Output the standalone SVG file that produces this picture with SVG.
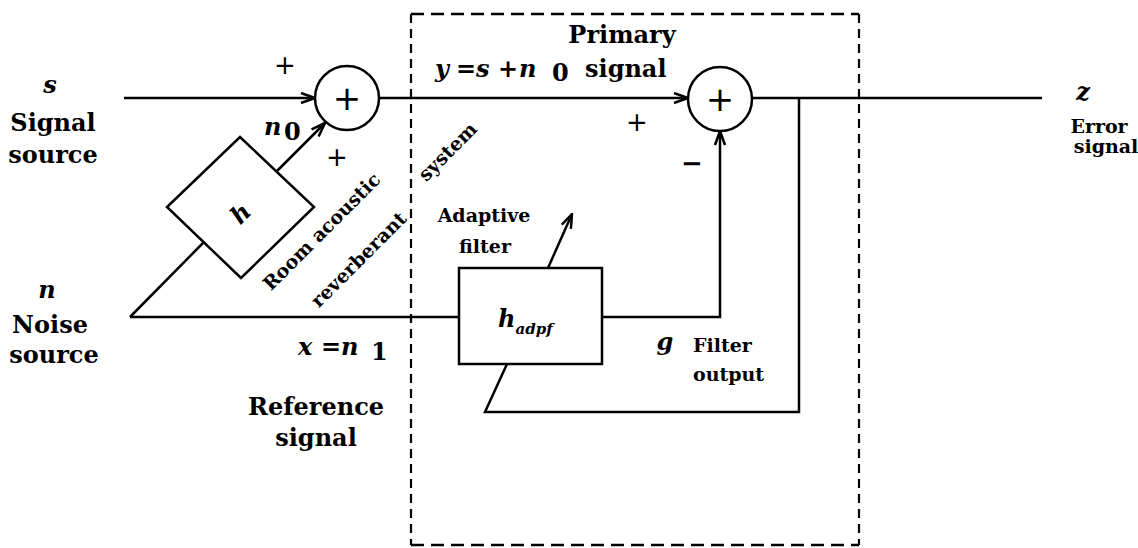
<svg xmlns="http://www.w3.org/2000/svg" width="1138" height="548" viewBox="0 0 1138 548">
<style>
.ln{fill:none;stroke:#000;stroke-width:2.5}
.dh{fill:none;stroke:#000;stroke-width:2.5;stroke-dasharray:13 7}
.dv{fill:none;stroke:#000;stroke-width:2.2;stroke-dasharray:9 6}
.lb{font-family:"DejaVu Serif","Liberation Serif",serif;font-weight:bold;font-size:24px;fill:#000}
.c{text-anchor:middle}
.sm{font-size:19px}
.it{font-style:italic}
.op{font-family:"DejaVu Sans",sans-serif;font-size:26px;fill:#000;text-anchor:middle}
.big{font-family:"DejaVu Sans",sans-serif;font-size:34px;fill:#000;text-anchor:middle}
</style>
<defs>
<marker id="ah" viewBox="0 0 16 12" refX="15" refY="6" markerWidth="16" markerHeight="12" markerUnits="userSpaceOnUse" orient="auto">
<path d="M1,1 L15,6 L1,11" fill="none" stroke="#000" stroke-width="2.5"/>
</marker>
</defs>
<rect x="0" y="0" width="1138" height="548" fill="#fff"/>

<g id="system-box">
<line class="dh" x1="411" y1="14" x2="859" y2="14"/>
<line class="dh" x1="411" y1="545" x2="859" y2="545"/>
<line class="dv" x1="411" y1="14" x2="411" y2="545"/>
<line class="dv" x1="859" y1="14" x2="859" y2="545"/>
</g>

<g id="connectors">
<line class="ln" x1="124" y1="98" x2="315" y2="98" marker-end="url(#ah)"/>
<line class="ln" x1="277" y1="171" x2="325" y2="123" marker-end="url(#ah)"/>
<line class="ln" x1="379" y1="98" x2="688" y2="98" marker-end="url(#ah)"/>
<line class="ln" x1="752" y1="98" x2="1042" y2="98"/>
<polyline class="ln" points="799,98 799,412 485,412 507,364"/>
<line class="ln" x1="548" y1="268" x2="572" y2="214" marker-end="url(#ah)"/>
<line class="ln" x1="130" y1="317" x2="459" y2="317"/>
<line class="ln" x1="130" y1="317" x2="204" y2="242"/>
<polyline class="ln" points="602,317 720,317 720,131" marker-end="url(#ah)"/>
</g>

<g id="sum1">
<circle class="ln" cx="347" cy="98" r="32"/>
<text class="big" x="347" y="110">+</text>
</g>

<g id="sum2">
<circle class="ln" cx="720" cy="99" r="32"/>
<text class="big" x="720" y="111">+</text>
</g>

<g id="room-h">
<polygon class="ln" points="240,137 314,207 241,278 167,207"/>
<text class="lb it c" font-size="26" transform="translate(240,213) rotate(-45)" y="9">h</text>
</g>

<g id="adaptive-filter">
<rect class="ln" x="459" y="268" width="143" height="96"/>
<text class="lb it" x="498" y="327" font-size="28">h<tspan font-size="15" dy="7">adpf</tspan></text>
</g>

<g id="labels">
<text class="lb it c" x="50" y="93">s</text>
<text class="lb c" x="53" y="131">Signal</text>
<text class="lb c" x="53" y="163">source</text>

<text class="lb it c" x="47" y="298">n</text>
<text class="lb c" x="50" y="333">Noise</text>
<text class="lb c" x="54" y="363">source</text>

<text class="lb it c" x="1083" y="100" font-size="22">z</text>
<text class="lb sm c" x="1099" y="133">Error</text>
<text class="lb sm c" x="1106" y="153">signal</text>

<text class="op" x="285" y="74">+</text>
<text class="op" x="337" y="166">+</text>
<text class="op" x="637" y="131">+</text>
<text class="op" x="692" y="172" font-size="28" font-weight="bold">−</text>

<text class="lb it" x="264" y="135" font-size="22">n</text>
<text class="lb" x="284" y="140" font-size="19">0</text>

<text class="lb c" x="622" y="43">Primary</text>
<text class="lb it" x="435" y="77" font-size="22">y</text>
<text class="lb" x="456" y="77" font-size="22">=</text>
<text class="lb it" x="476" y="77" font-size="22">s</text>
<text class="lb" x="498" y="77" font-size="22">+</text>
<text class="lb it" x="519" y="77" font-size="22">n</text>
<text class="lb" x="552" y="81" font-size="20">0</text>
<text class="lb" x="585" y="77" font-size="22">signal</text>

<text class="lb sm c" transform="translate(322,232) rotate(-45)" y="6">Room acoustic</text>
<text class="lb sm c" transform="translate(359,260) rotate(-45)" y="6">reverberant</text>
<text class="lb sm c" transform="translate(448,152) rotate(-45)" y="6">system</text>

<text class="lb sm c" x="484" y="222">Adaptive</text>
<text class="lb sm c" x="485" y="253">filter</text>

<text class="lb it" x="298" y="355" font-size="22">x</text>
<text class="lb" x="321" y="355" font-size="22">=</text>
<text class="lb it" x="341" y="355" font-size="22">n</text>
<text class="lb" x="371" y="360" font-size="19">1</text>
<text class="lb c" x="316" y="415">Reference</text>
<text class="lb c" x="316" y="446">signal</text>

<text class="lb it c" x="665" y="350" font-size="22">g</text>
<text class="lb sm" x="693" y="352">Filter</text>
<text class="lb sm" x="693" y="381">output</text>
</g>
</svg>
